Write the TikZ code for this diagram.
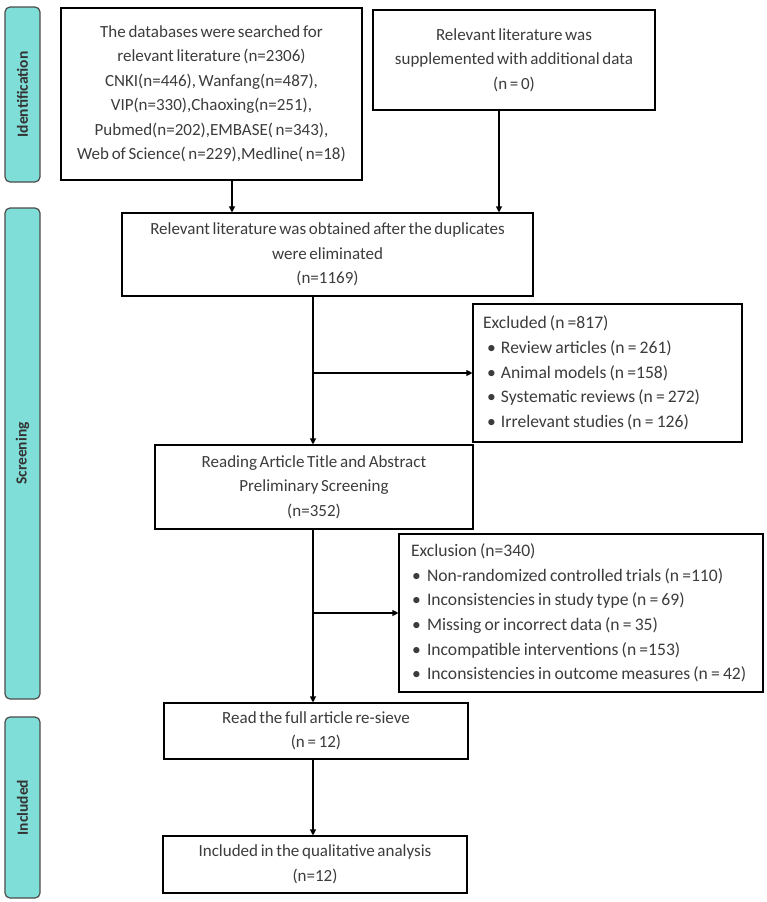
\documentclass[tikz,border=0pt]{standalone}
\usepackage{fontspec}
\setmainfont{Carlito}[WordSpace=0.7]
\usetikzlibrary{arrows.meta}
\definecolor{barteal}{RGB}{128,222,216}
\definecolor{txt}{RGB}{60,60,60}
\newcommand{\blt}[1]{\makebox[#1][l]{\textbullet}}
\newcommand{\tightsp}{\spaceskip=0.18em\xspaceskip=0.18em\relax}
\begin{document}
\begin{tikzpicture}[x=1pt,y=1pt,
  box/.style={draw=black, line width=1.1pt, fill=white, align=center, text=txt,
    font=\fontsize{17}{24.5}\selectfont, inner sep=0pt},
  lbox/.style={box, align=left, font=\fontsize{17.6}{24.7}\selectfont},
  bar/.style={draw=black!70, line width=1.2pt, fill=barteal, rounded corners=5pt,
    rotate=90, font=\bfseries\fontsize{15.5}{17}\selectfont, text=black!80, inner sep=0pt},
  arr/.style={line width=1.1pt, -{Triangle[width=6pt,length=6pt]}}]
\useasboundingbox (0,0) rectangle (767,-902);

% side bars
\node[bar, minimum width=175, minimum height=35] (idbar) at (22.5,-94.5) {Identification};
\node[bar, minimum width=491, minimum height=35] (scbar) at (22.5,-453.5) {Screening};
\node[bar, minimum width=181, minimum height=35] (inbar) at (22.5,-807.5) {Included};

% boxes
\node[box, minimum width=301, minimum height=172] (db) at (211.5,-94) {The databases were searched for\\relevant literature (n=2306)\\CNKI(n=446), Wanfang(n=487),\\VIP(n=330),Chaoxing(n=251),\\Pubmed(n=202),EMBASE( n=343),\\Web of Science( n=229),Medline( n=18)};
\node[box, minimum width=282, minimum height=100] (supp) at (514,-60) {Relevant literature was\\supplemented with additional data\\(n = 0)};
\node[box, minimum width=411, minimum height=83] (dup) at (327.5,-254.5) {Relevant literature was obtained after the duplicates\\were eliminated\\(n=1169)};
\node[lbox, inner xsep=10pt, text width=249pt, minimum height=138] (excl) at (607.5,-373) {\tightsp Excluded (n =817)\\
\hspace*{4pt}\blt{14pt}Review articles (n = 261)\\
\hspace*{4pt}\blt{14pt}Animal models (n =158)\\
\hspace*{4pt}\blt{14pt}Systematic reviews (n = 272)\\
\hspace*{4pt}\blt{14pt}Irrelevant studies (n = 126)};
\node[box, minimum width=318, minimum height=84] (read) at (314,-487) {Reading Article Title and Abstract\\Preliminary Screening\\(n=352)};
\node[lbox, inner xsep=12pt, text width=340pt, minimum height=158] (exclu) at (581,-613) {\tightsp Exclusion (n=340)\\
\hspace*{1pt}\blt{15pt}Non-randomized controlled trials (n =110)\\
\hspace*{1pt}\blt{15pt}Inconsistencies in study type (n = 69)\\
\hspace*{1pt}\blt{15pt}Missing or incorrect data (n = 35)\\
\hspace*{1pt}\blt{15pt}Incompatible interventions (n =153)\\
\hspace*{1pt}\blt{15pt}Inconsistencies in outcome measures (n = 42)};
\node[box, minimum width=304, minimum height=56] (full) at (316,-731) {Read the full article re-sieve\\(n = 12)};
\node[box, minimum width=304, minimum height=57] (incl) at (315,-864.5) {Included in the qualitative analysis\\(n=12)};

% connector columns
\coordinate (colA) at (232,0);
\coordinate (colB) at (499,0);
\coordinate (spine) at (313,0);

\draw[arr] (db.south -| colA) -- (dup.north -| colA);
\draw[arr] (supp.south -| colB) -- (dup.north -| colB);
\draw[arr] (dup.south -| spine) -- (read.north -| spine);
\coordinate (br1) at (spine |- excl.west);
\draw[arr] (br1) -- (excl.west);
\draw[arr] (read.south -| spine) -- (full.north -| spine);
\coordinate (br2) at (spine |- exclu.west);
\draw[arr] (br2) -- (exclu.west);
\draw[arr] (full.south -| spine) -- (incl.north -| spine);
\end{tikzpicture}
\end{document}
